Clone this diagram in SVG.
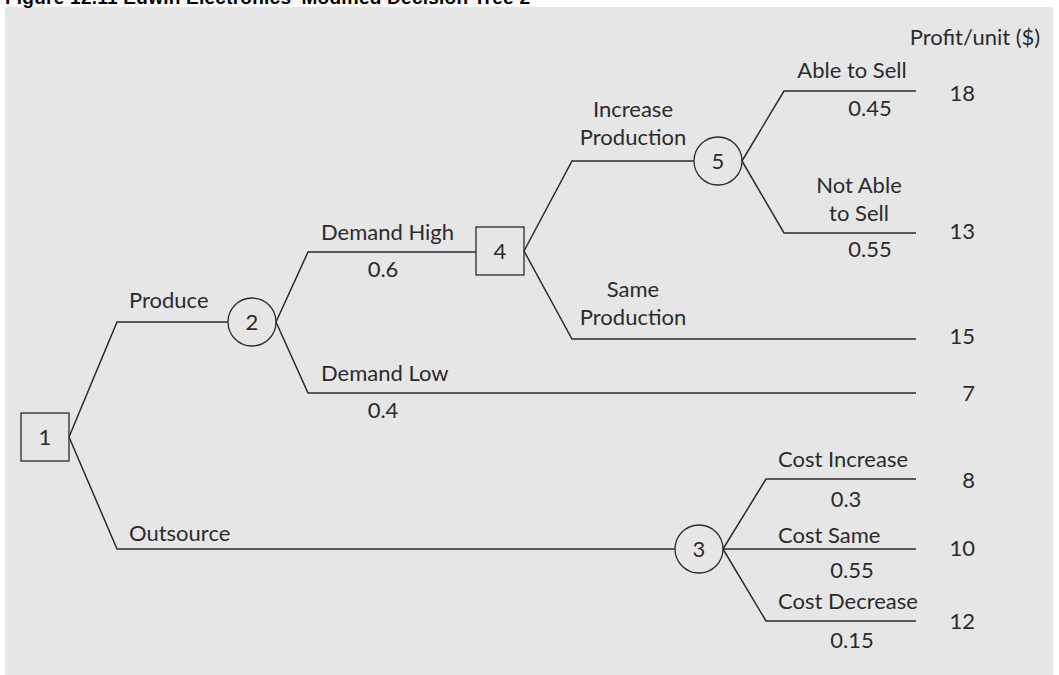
<svg xmlns="http://www.w3.org/2000/svg" width="1059" height="675" viewBox="0 0 1059 675">
<style>
.bg{fill:#e6e6e6}
.ln{fill:none;stroke:#2b2b2b;stroke-width:1.5}
.nd{fill:none;stroke:#2b2b2b;stroke-width:1.3}
text{font-family:Lato,"Open Sans","Liberation Sans",sans-serif;font-size:22px;fill:#2b2b2b}
.c{text-anchor:middle}
.r{text-anchor:end}
.title{font-family:"Liberation Sans",Arial,sans-serif;font-weight:bold;font-size:19px;fill:#000}
</style>
<rect x="0" y="0" width="1059" height="675" fill="#ffffff"/>
<rect class="bg" x="5" y="7" width="1048" height="668"/>
<text class="title" x="5" y="4" textLength="525" lengthAdjust="spacing">Figure 12.11   Edwin Electronics' Modified Decision Tree 2</text>
<g id="connectors">
<polyline class="ln" points="69,437 117,322 228,322"/>
<polyline class="ln" points="69,437 117,549 675,549"/>
<polyline class="ln" points="276,322 308,252 476,252"/>
<polyline class="ln" points="276,322 308,393 916,393"/>
<polyline class="ln" points="524,251 572,161 694,161"/>
<polyline class="ln" points="524,251 572,339 916,339"/>
<polyline class="ln" points="742,161 784,91 916,91"/>
<polyline class="ln" points="742,161 784,233 916,233"/>
<polyline class="ln" points="723,549 766,479 916,479"/>
<polyline class="ln" points="723,549 916,549"/>
<polyline class="ln" points="723,549 766,621 916,621"/>
</g>
<g id="node1"><rect class="nd" x="21" y="413" width="48" height="48"/><text class="c" x="45" y="445">1</text></g>
<g id="node2"><circle class="nd" cx="252" cy="322" r="24"/><text class="c" x="252" y="330">2</text></g>
<g id="node3"><circle class="nd" cx="699" cy="549" r="24"/><text class="c" x="699" y="557">3</text></g>
<g id="node4"><rect class="nd" x="476" y="227" width="48" height="48"/><text class="c" x="500" y="259">4</text></g>
<g id="node5"><circle class="nd" cx="718" cy="161" r="24"/><text class="c" x="718" y="169">5</text></g>
<g id="labels">
<text x="129" y="308">Produce</text>
<text x="129" y="541">Outsource</text>
<text x="321" y="240">Demand High</text>
<text class="c" x="383" y="277">0.6</text>
<text x="321" y="381">Demand Low</text>
<text class="c" x="383" y="418">0.4</text>
<text class="c" x="633" y="117">Increase</text>
<text class="c" x="633" y="145">Production</text>
<text class="c" x="633" y="297">Same</text>
<text class="c" x="633" y="325">Production</text>
<text class="c" x="852" y="78">Able to Sell</text>
<text class="c" x="870" y="116">0.45</text>
<text class="c" x="859" y="193">Not Able</text>
<text class="c" x="859" y="221">to Sell</text>
<text class="c" x="870" y="257">0.55</text>
<text x="778" y="467">Cost Increase</text>
<text class="c" x="846" y="507">0.3</text>
<text x="778" y="543">Cost Same</text>
<text class="c" x="852" y="578">0.55</text>
<text x="778" y="609">Cost Decrease</text>
<text class="c" x="852" y="648">0.15</text>
<text class="c" x="975" y="45">Profit/unit ($)</text>
<text class="r" x="975" y="101">18</text>
<text class="r" x="975" y="239">13</text>
<text class="r" x="975" y="344">15</text>
<text class="r" x="975" y="401">7</text>
<text class="r" x="975" y="488">8</text>
<text class="r" x="975" y="556">10</text>
<text class="r" x="975" y="629">12</text>
</g>
</svg>
